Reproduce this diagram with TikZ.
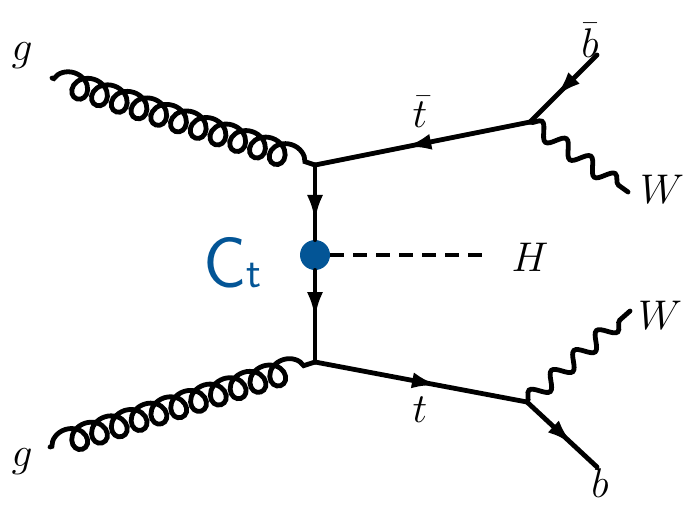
\documentclass[tikz,border=0pt]{standalone}
\usetikzlibrary{decorations.pathmorphing,decorations.markings,arrows.meta}
\definecolor{ctblue}{RGB}{3,85,150}
\begin{document}
\begin{tikzpicture}[x=0.5pt,y=-0.5pt,
  line/.style={line width=2.4pt,line cap=round},
  fermion/.style={line, postaction={decorate},
    decoration={markings, mark=at position #1 with {\arrow{Latex[length=13pt,width=8pt]}}}},
  gluon/.style={line, decorate, decoration={coil, aspect=1.05, segment length=10.4pt, amplitude=6pt, pre length=1pt, post length=1pt}},
  boson/.style={line, decorate, decoration={snake, segment length=15pt, amplitude=3.8pt}},
  scalar/.style={line width=2.4pt, dash pattern=on 7pt off 4.5pt},
  lbl/.style={font=\fontsize{20}{24}\selectfont, inner sep=0pt}]
\useasboundingbox (0,0) rectangle (684,505);
% vertices
\coordinate (v1) at (315,165);
\coordinate (v2) at (315,362);
\coordinate (v3) at (530,122);
\coordinate (v4) at (527,402);
\coordinate (g1) at (52,78);
\coordinate (g2) at (50,447);
\coordinate (bb) at (597,55);
\coordinate (b) at (597,467);
\coordinate (w1) at (628,192);
\coordinate (w2) at (630,311);
\coordinate (h) at (490,255);
\node[circle, fill=ctblue, minimum size=15pt, inner sep=0pt] (blob) at (315,255) {};
% propagators
\draw[fermion=0.75] (v1) -- (blob.north);
\draw[fermion=0.52] (blob.south) -- (v2);
\draw[scalar] (blob.east) -- (h);
\draw[fermion=0.58] (v3) -- (v1);
\draw[fermion=0.58] (v2) -- (v4);
\draw[fermion=0.62] (bb) -- (v3);
\draw[fermion=0.65] (v4) -- (b);
\draw[boson] (v3) -- (w1);
\draw[boson] (v4) -- (w2);
\draw[gluon] (g1) -- (v1);
\draw[gluon] (g2) -- (v2);
% labels
\node[lbl] (lg1) at (22,56) {$g$};
\node[lbl] (lg2) at (22,462) {$g$};
\node[lbl] (ltb) at (420,112) {$\bar t$};
\node[lbl] (lt) at (420,410) {$t$};
\node[lbl] (lbb) at (590,40) {$\bar b$};
\node[lbl] (lb) at (600,483) {$b$};
\node[lbl] (lw1) at (662,189) {$W$};
\node[lbl] (lw2) at (660,315) {$W$};
\node[lbl] (lh) at (530,257) {$H$};
\node[anchor=base west, inner sep=0pt, text=ctblue] (ct) at (203,287)
  {\sffamily\fontsize{36}{40}\selectfont C\fontsize{22}{26}\selectfont t};
\end{tikzpicture}
\end{document}
